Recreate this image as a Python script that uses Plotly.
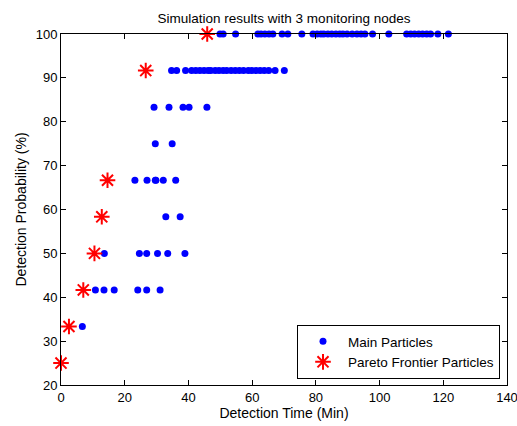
import plotly.graph_objects as go

# Detection probability levels (fraction of 12 monitored events, in %)
P25, P33, P42, P50, P58, P67, P75, P83, P92, P100 = (
    25.0, 100 / 3, 125 / 3, 50.0, 175 / 3, 200 / 3, 75.0, 250 / 3, 275 / 3, 100.0)

# Main particles: detection time (min) per probability level
main_t_33 = [6.7]
main_t_42 = [10.8, 13.5, 16.7, 24.1, 26.9, 31.1]
main_t_50 = [13.6, 24.6, 26.9, 30.3, 33.5, 38.9]
main_t_58 = [32.9, 37.4]
main_t_67 = [23.2, 27.0, 29.6, 29.8, 32.1, 36.0]
main_t_75 = [29.6, 34.9]
main_t_83 = [29.2, 33.9, 38.3, 40.2, 45.8]
main_t_92 = [34.7, 36.3, 39.1, 41.0, 42.3, 43.6, 44.9, 46.2, 47.0, 48.4, 49.6,
             50.9, 52.0, 53.4, 54.7, 56.0, 57.3, 58.8, 59.9, 61.2, 62.5, 63.8,
             65.2, 67.2, 70.1]
main_t_100 = [49.9, 50.9, 54.8, 61.8, 62.8, 64.0, 65.3, 66.5, 69.4, 71.2, 75.6,
              79.1, 80.4, 81.6, 82.5, 83.8, 85.0, 86.3, 87.5, 88.5, 89.8, 91.4,
              92.9, 94.2, 95.4, 97.8, 102.9, 108.5, 109.8, 111.0, 112.3, 113.5,
              114.8, 116.0, 118.3, 121.6]

# Pareto frontier particles
pareto_t = [0.0, 2.5, 7.0, 10.5, 12.8, 14.6, 26.6, 45.9]
pareto_p = [P25, P33, P42, P50, P58, P67, P92, P100]

x_ticks = [0, 20, 40, 60, 80, 100, 120, 140]
y_ticks = [20, 30, 40, 50, 60, 70, 80, 90, 100]

rows = [
    (main_t_33, P33), (main_t_42, P42), (main_t_50, P50), (main_t_58, P58),
    (main_t_67, P67), (main_t_75, P75), (main_t_83, P83), (main_t_92, P92),
    (main_t_100, P100),
]
main_x, main_y = [], []
for times, p in rows:
    main_x += times
    main_y += [p] * len(times)

FONT = "Liberation Sans, Arial, sans-serif"

fig = go.Figure()
fig.add_trace(go.Scatter(
    x=main_x, y=main_y, mode="markers", name="Main Particles",
    marker=dict(symbol="circle", size=7, color="#0000ff", line=dict(width=0)),
    cliponaxis=False,
))
fig.add_trace(go.Scatter(
    x=pareto_t, y=pareto_p, mode="markers", name="Pareto Frontier Particles",
    marker=dict(symbol="asterisk-open", size=13, color="#ff0000",
                line=dict(color="#ff0000", width=2)),
    cliponaxis=False,
))

axis_common = dict(
    showline=True, linecolor="black", linewidth=1, mirror="ticks",
    ticks="inside", ticklen=5, tickcolor="black", tickwidth=1,
    showgrid=False, zeroline=False, ticklabeloverflow="allow",
    automargin=False,
    tickfont=dict(family=FONT, size=13, color="black"),
)

fig.update_layout(
    width=517, height=426,
    margin=dict(l=61, r=10, t=34, b=41),
    paper_bgcolor="white", plot_bgcolor="white",
    font=dict(family=FONT, size=13, color="black"),
    title=dict(text="Simulation results with 3 monitoring nodes",
               x=(155 + 413) / 2 / 517, xanchor="center",
               y=1 - 18 / 426, yanchor="middle",
               font=dict(family=FONT, size=13.5, color="black")),
    xaxis=dict(range=[0, 140], tickvals=x_ticks,
               title=dict(text="Detection Time (Min)", standoff=1,
                          font=dict(family=FONT, size=14)),
               **axis_common),
    yaxis=dict(range=[20, 100], tickvals=y_ticks,
               title=dict(text="Detection Probability (%)", standoff=5,
                          font=dict(family=FONT, size=14)),
               **axis_common),
    legend=dict(x=(500 - 61) / 446, xanchor="right",
                y=(385 - 379) / 351, yanchor="bottom",
                bgcolor="white", bordercolor="black", borderwidth=1,
                font=dict(family=FONT, size=13.5, color="black"),
                itemwidth=40, tracegroupgap=0),
    showlegend=True,
)

fig.write_html("out.html")
